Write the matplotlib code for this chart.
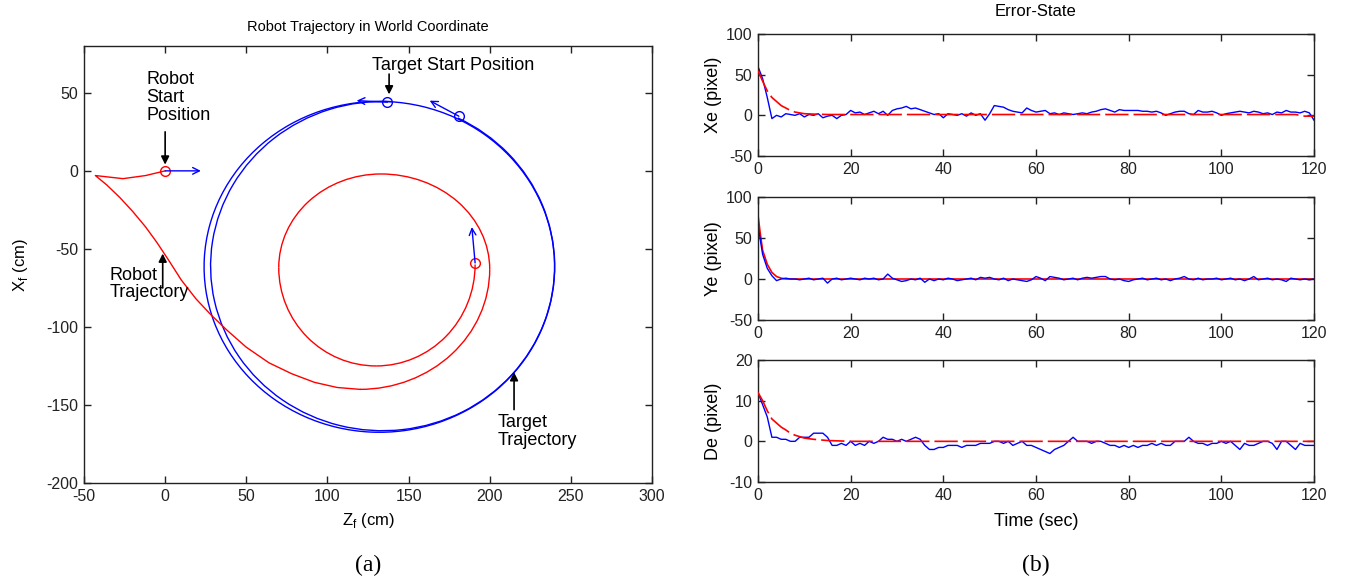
import numpy as np
import matplotlib
matplotlib.use("Agg")
import matplotlib.pyplot as plt
from matplotlib.patches import Arc

plt.rcParams["font.family"] = ["Liberation Sans Narrow", "Liberation Sans", "DejaVu Sans"]
plt.rcParams["mathtext.fontset"] = "custom"
plt.rcParams["mathtext.rm"] = "Liberation Sans"
plt.rcParams["axes.unicode_minus"] = False

# ---------------------------------------------------------------
# (a) trajectories in world coordinates (cm)
# ---------------------------------------------------------------
# target: two near-circular laps, counter-clockwise (centre, radii, angles)
target_cz = [132, 134]
target_cx = [-61.5, -61]
target_rz = [108, 106]
target_rx = [106, 105.5]
target_t1 = [87, 87]
target_t2 = [447, 424]

# robot: run-in from the start position ...
robot_z = [0, -12, -26, -43, -36, -28, -20, -12, -5, 2, 10, 19, 28, 38, 50, 64,
           78, 92, 106, 120]
robot_x = [0, -3, -5, -3, -9, -17, -26, -36, -46, -57, -70, -82, -92, -102, -113,
           -123, -130, -135.5, -138.8, -140]
# ... then a spiral made of quarter arcs
robot_cz = [120, 133, 133, 130, 130]
robot_cx = [-63, -63, -62, -62, -60]
robot_rz = [80, 67, 63, 60, 61]
robot_rx = [77, 61, 60, 63, 65]
robot_t1 = [270, 0, 90, 180, 270]
robot_t2 = [360, 90, 180, 270, 360]

# start / end markers and heading arrows (tail, head)
robot_start = (0, 0)
robot_end = (191, -59)
target_start = (137, 44)
target_end = (181, 35)
robot_start_head = (22, 0)
robot_end_head = (189, -36)
target_start_head = (118, 45)
target_end_head = (163, 45)

# ---------------------------------------------------------------
# (b) error states vs time
# ---------------------------------------------------------------
t = np.arange(0, 121)
xe = [60, 45, 22, -4, 0, -2, 2, 1, 0, 2, -2, 1, 0, 2, -3, -1, 0, -4, 0, 1,
      6, 3, 4, 1, 3, 5, 2, 5, 0, 6, 8, 9, 11, 8, 9, 7, 5, 3, 1, 2,
      -3, 2, 1, 0, 2, -1, 3, 0, 2, -6, 2, 12, 11, 10, 7, 5, 4, 3, 9, 6,
      4, 5, 6, 2, 3, 1, 3, 2, 1, 2, 3, 2, 4, 5, 7, 8, 6, 4, 7, 6,
      6, 6, 6, 5, 5, 4, 5, 3, 0, 2, 4, 5, 5, 2, 1, 6, 4, 4, 5, 3,
      0, 2, 3, 4, 5, 4, 3, 5, 4, 2, 3, 1, 4, 3, 6, 4, 4, 3, 5, 3, -6]
ye = [65, 30, 13, 4, -2, 0, 1, 0, 0, -1, 0, 1, -1, 0, 1, -5, 0, 1, -1, 0,
      1, 0, -1, 1, 0, 1, -1, 0, 6, 1, -1, -3, -2, 0, -1, 1, -4, 0, -2, 0,
      -1, 1, 0, -2, -1, 0, 1, -1, 2, 1, 2, 0, -1, 1, -2, 0, -1, -2, -3, -1,
      3, 1, -2, 3, 2, 1, -1, 0, 1, -1, 1, 2, 1, 2, 3, 3, 0, -1, 0, -2,
      -3, -1, 0, 1, -1, 0, 1, -1, 0, -2, 0, 1, 3, 0, -1, 1, -1, 0, 0, 1,
      -1, 0, 1, -1, 0, -2, 0, 3, -1, 0, 1, -1, 0, -1, -3, 1, 0, -1, 0, -1, 0]
de = [12, 9, 6, 1, 1, 0.5, 0.5, 0, 0, 1, 1, 1, 2, 2, 2, 1, -1, -1, -0.5, -1,
      0, -1, -0.5, -1, 0, -0.5, 0, 1, 0.5, 0.5, 0, 0.5, 0, 0.5, 1, 0.5, -1, -2, -2, -1.5,
      -1.5, -1, -1, -1, -1.5, -1, -1, -1, -0.5, -0.5, -0.5, 0, 0, -0.5, 0, -1, -0.5, 0, -1, -1,
      -1.5, -2, -2.5, -3, -2, -1.5, -1, 0, 1, 0, 0, 0, -0.5, 0, 0, -0.5, -1, -1, -1.5, -1,
      -1.5, -1, -1.5, -1, -1, -0.5, -1, -0.5, -1, -1, 0, 0, 0, 1, 0, -0.5, -0.5, -1, -0.5, -0.5,
      0, -0.5, 0, -1, -2, -0.5, -1, -1, -0.5, 0, 0, -0.5, -2, 0, 0, -1, -2, -0.5, -1, -1, -1]

# estimated (reference) error decay
ref_t = [0, 1, 2, 3, 4, 5, 6, 7, 8, 10, 12, 15, 20, 40, 60, 80, 100, 116, 118, 120]
xe_ref = [55, 42, 30, 22, 17, 12, 9, 6, 4, 2, 1.5, 1, 1, 1, 1, 1, 1, 1, -1, -1]
ye_ref_t = [0, 0.5, 1, 2, 3, 4, 5, 6, 120]
ye_ref = [78, 55, 35, 18, 8, 3, 1, 0, 0]
de_ref = [12, 10, 7.5, 5.5, 4.5, 3.5, 2.8, 2, 1.5, 0.8, 0.5, 0.2, 0, 0, 0, 0, 0, 0, 0, 0]

W, H = 1345, 583
fig = plt.figure(figsize=(W / 100, H / 100), dpi=100)
fig.patch.set_facecolor("white")

BLUE = "#0000ff"
RED = "#ff0000"
TICK_FS = 11.5


def style(ax):
    ax.tick_params(direction="in", top=True, right=True, length=5, width=1,
                   labelsize=TICK_FS, pad=4, colors="#222222")
    for sp in ax.spines.values():
        sp.set_linewidth(1)
        sp.set_edgecolor("#222222")


def px(x, y):
    return x / W, 1 - y / H


# -- (a) ---------------------------------------------------------
ax = fig.add_axes([84 / W, 1 - 483 / H, 568 / W, 437 / H])
for cz, cx, rz, rx, t1, t2 in zip(target_cz, target_cx, target_rz, target_rx,
                                  target_t1, target_t2):
    ax.add_patch(Arc((cz, cx), 2 * rz, 2 * rx, theta1=t1, theta2=t2,
                     color=BLUE, lw=1))
ax.plot(robot_z, robot_x, color=RED, lw=1)
for cz, cx, rz, rx, t1, t2 in zip(robot_cz, robot_cx, robot_rz, robot_rx,
                                  robot_t1, robot_t2):
    ax.add_patch(Arc((cz, cx), 2 * rz, 2 * rx, theta1=t1, theta2=t2,
                     color=RED, lw=1))

for (p, c) in [(robot_start, RED), (robot_end, RED), (target_start, BLUE), (target_end, BLUE)]:
    ax.plot(*p, "o", mfc="none", mec=c, ms=7, mew=1)
for tail, head in [(robot_start, robot_start_head), (robot_end, robot_end_head),
                   (target_start, target_start_head), (target_end, target_end_head)]:
    ax.annotate("", xy=head, xytext=tail,
                arrowprops=dict(arrowstyle="->", color=BLUE, lw=1, mutation_scale=12,
                                shrinkA=0, shrinkB=0))

ann_fs = 13
black_arrow = dict(arrowstyle="-|>", color="black", lw=1.2, mutation_scale=12,
                   shrinkA=0, shrinkB=0)
ax.text(-11.5, 47, "Robot\nStart\nPosition", fontsize=ann_fs, va="center",
        ha="left", linespacing=1.05)
ax.annotate("", xy=(0, 4), xytext=(0, 25), arrowprops=black_arrow)
ax.text(127.5, 67.5, "Target Start Position", fontsize=ann_fs, va="center", ha="left")
ax.annotate("", xy=(138, 49), xytext=(138, 62), arrowprops=black_arrow)
ax.text(-34, -72.5, "Robot\nTrajectory", fontsize=ann_fs, va="center", ha="left",
        linespacing=1.05)
ax.annotate("", xy=(-1.5, -53), xytext=(-1.5, -75), arrowprops=black_arrow)
ax.text(205, -167, "Target\nTrajectory", fontsize=ann_fs, va="center", ha="left",
        linespacing=1.05)
ax.annotate("", xy=(215, -129), xytext=(215, -153), arrowprops=black_arrow)

ax.set_xlim(-50, 300)
ax.set_ylim(-200, 80)
ax.set_xticks(np.arange(-50, 301, 50))
ax.set_yticks(np.arange(-200, 51, 50))
style(ax)

fig.text(*px(368, 27), "Robot Trajectory in World Coordinate", fontsize=10.5,
         ha="center", va="center")
fig.text(*px(368, 521), r"Z$_\mathrm{f}$ (cm)", fontsize=12, ha="center", va="center")
fig.text(*px(20, 265), r"X$_\mathrm{f}$ (cm)", fontsize=12, ha="center", va="center",
         rotation=90)
fig.text(*px(368, 565), "(a)", fontsize=17, ha="center", va="center",
         family="Liberation Serif")

# -- (b) ---------------------------------------------------------
rows = [(34, 156), (197, 320), (360, 482)]
series = [(xe, ref_t, xe_ref, "Xe (pixel)", (-50, 100), [-50, 0, 50, 100], True),
          (ye, ye_ref_t, ye_ref, "Ye (pixel)", (-50, 100), [-50, 0, 50, 100], False),
          (de, ref_t, de_ref, "De (pixel)", (-10, 20), [-10, 0, 10, 20], True)]
for (top, bot), (meas, rt, ref, label, ylim, yticks, dashed) in zip(rows, series):
    ax = fig.add_axes([758 / W, 1 - bot / H, 556 / W, (bot - top) / H])
    ax.plot(t, meas, color=BLUE, lw=1, zorder=2)
    if dashed:
        ax.plot(rt, ref, color=RED, lw=1.2, dashes=(14, 3), zorder=3)
    else:
        ax.plot(rt, ref, color=RED, lw=1.2, zorder=1)
    ax.set_xlim(0, 120)
    ax.set_ylim(*ylim)
    ax.set_xticks(np.arange(0, 121, 20))
    ax.set_yticks(yticks)
    style(ax)
    fig.text(*px(713, (top + bot) / 2), label, fontsize=13, ha="center", va="center",
             rotation=90)

fig.text(*px(1036, 12), "Error-State", fontsize=12, ha="center", va="center")
fig.text(*px(1036, 522), "Time (sec)", fontsize=13, ha="center", va="center")
fig.text(*px(1036, 565), "(b)", fontsize=17, ha="center", va="center",
         family="Liberation Serif")

fig.savefig("out.png", dpi=100, facecolor="white")
